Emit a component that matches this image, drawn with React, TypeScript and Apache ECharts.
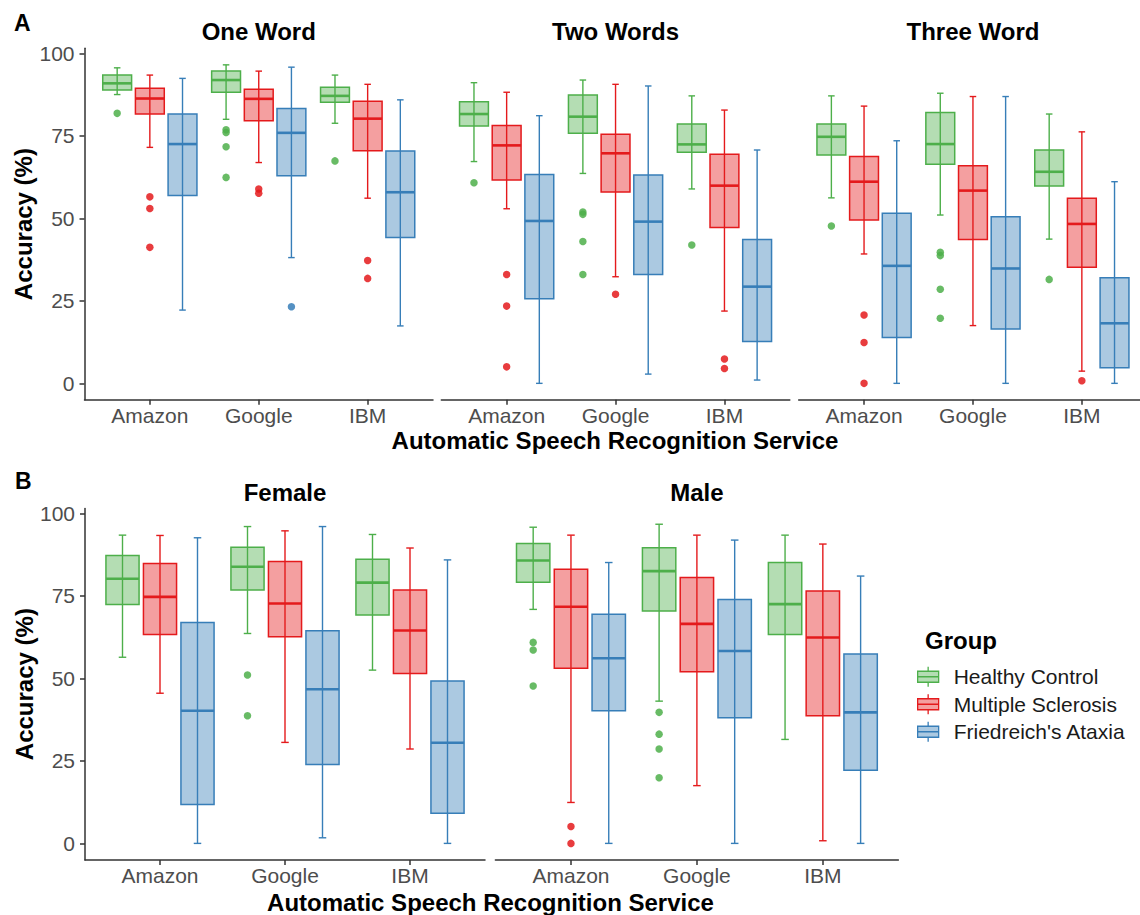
import React, { useEffect, useRef } from 'react';
import * as echarts from 'echarts';

const services = ['Amazon', 'Google', 'IBM'];
const groups = ['Healthy Control', 'Multiple Sclerosis', "Friedreich's Ataxia"];
const yTicks = [0, 25, 50, 75, 100];
const xTicks = [1, 2, 3];

// five-number summaries [min, q1, median, q3, max], one per service
const oneWordHC = [[87.5, 88.9, 90.9, 93.4, 95.6], [80.0, 88.2, 91.9, 94.6, 96.5], [78.8, 85.2, 87.1, 89.7, 93.4]];
const oneWordMS = [[71.5, 81.6, 86.3, 89.4, 93.4], [66.9, 79.6, 86.2, 89.1, 94.6], [56.1, 70.5, 80.2, 85.5, 90.6]];
const oneWordFA = [[22.2, 56.9, 72.5, 81.6, 92.4], [38.1, 62.9, 75.9, 83.3, 95.8], [17.4, 44.2, 57.9, 70.4, 85.9]];
// outliers [serviceIndex, value]
const oneWordHCOut = [[0, 81.8], [1, 76.8], [1, 76.0], [1, 71.7], [1, 62.4], [2, 67.4]];
const oneWordMSOut = [[0, 56.5], [0, 53.0], [0, 41.2], [1, 58.9], [1, 57.6], [2, 37.2], [2, 31.8]];
const oneWordFAOut = [[1, 23.2]];

const twoWordsHC = [[67.2, 78.0, 81.6, 85.3, 91.1], [63.6, 75.8, 80.8, 87.4, 91.9], [58.9, 70.0, 72.4, 78.6, 87.1]];
const twoWordsMS = [[52.9, 61.6, 72.1, 78.1, 88.2], [32.3, 58.0, 69.7, 75.5, 90.6], [21.9, 47.2, 59.9, 69.4, 82.8]];
const twoWordsFA = [[0, 25.6, 49.2, 63.3, 81.1], [2.8, 33.0, 49.0, 63.1, 90.1], [1.0, 12.7, 29.3, 43.6, 70.7]];
const twoWordsHCOut = [[0, 60.8], [1, 51.9], [1, 51.2], [1, 43.0], [1, 33.0], [2, 41.9]];
const twoWordsMSOut = [[0, 33.0], [0, 23.4], [0, 5.0], [1, 27.0], [2, 7.4], [2, 4.5]];
const twoWordsFAOut: number[][] = [];

const threeWordHC = [[56.2, 69.2, 74.7, 78.6, 87.1], [51.0, 66.4, 72.5, 82.1, 87.9], [43.7, 59.8, 64.1, 70.7, 81.6]];
const threeWordMS = [[39.2, 49.5, 61.1, 68.7, 84.0], [17.5, 43.6, 58.4, 65.9, 86.9], [3.7, 35.2, 48.3, 56.1, 76.2]];
const threeWordFA = [[0, 13.9, 35.6, 51.5, 73.5], [0, 16.5, 34.8, 50.5, 86.9], [0, 4.7, 18.2, 32.0, 61.1]];
const threeWordHCOut = [[0, 47.7], [1, 39.7], [1, 38.7], [1, 28.5], [1, 19.7], [2, 31.5]];
const threeWordMSOut = [[0, 20.7], [0, 12.4], [0, 0], [2, 0.8]];
const threeWordFAOut: number[][] = [];

const femaleHC = [[56.4, 72.4, 80.2, 87.2, 93.4], [63.6, 76.8, 83.8, 89.7, 96.0], [52.5, 69.2, 79.0, 86.1, 93.6]];
const femaleMS = [[45.5, 63.3, 74.7, 84.8, 93.3], [30.6, 62.6, 72.7, 85.4, 94.7], [28.6, 51.5, 64.5, 76.8, 89.5]];
const femaleFA = [[0, 11.8, 40.2, 66.9, 92.6], [1.7, 23.9, 46.7, 64.4, 96.0], [0, 9.1, 30.5, 49.2, 85.9]];
const femaleHCOut = [[1, 51.0], [1, 38.7]];
const femaleMSOut: number[][] = [];
const femaleFAOut: number[][] = [];

const maleHC = [[70.9, 79.1, 85.7, 90.9, 95.8], [43.1, 70.4, 82.5, 89.6, 96.7], [31.5, 63.3, 72.5, 85.1, 93.4]];
const maleMS = [[12.4, 53.1, 71.7, 83.1, 93.4], [17.5, 52.0, 66.5, 80.6, 93.4], [0.8, 38.7, 62.4, 76.5, 90.7]];
const maleFA = [[0, 40.2, 56.1, 69.4, 85.1], [0, 38.1, 58.3, 73.9, 91.9], [0, 22.2, 39.7, 57.4, 81.0]];
const maleHCOut = [[0, 60.9], [0, 58.6], [0, 47.7], [1, 39.7], [1, 33.1], [1, 28.6], [1, 19.9]];
const maleMSOut = [[0, 5.1], [0, 0]];
const maleFAOut: number[][] = [];

const FONT = "'Liberation Sans', Arial, Helvetica, sans-serif";
const strokes = ['#4DAF4A', '#E41A1C', '#377EB8'];
const fills = ['rgba(77,175,74,0.42)', 'rgba(228,26,28,0.42)', 'rgba(55,126,184,0.42)'];
const BOX_W = 0.265;
const CAP_W = 0.06;
const DODGE = 0.3;
const Y_MIN = -5;
const Y_MAX = 101.5;

const panels = [
  { title: 'One Word', box: [oneWordHC, oneWordMS, oneWordFA], out: [oneWordHCOut, oneWordMSOut, oneWordFAOut], left: 84.5, top: 48.35, width: 348.5, height: 351.5, showY: true },
  { title: 'Two Words', box: [twoWordsHC, twoWordsMS, twoWordsFA], out: [twoWordsHCOut, twoWordsMSOut, twoWordsFAOut], left: 441.3, top: 48.35, width: 348.5, height: 351.5, showY: false },
  { title: 'Three Word', box: [threeWordHC, threeWordMS, threeWordFA], out: [threeWordHCOut, threeWordMSOut, threeWordFAOut], left: 798.7, top: 48.35, width: 348.5, height: 351.5, showY: false },
  { title: 'Female', box: [femaleHC, femaleMS, femaleFA], out: [femaleHCOut, femaleMSOut, femaleFAOut], left: 85, top: 508.4, width: 400, height: 351.5, showY: true },
  { title: 'Male', box: [maleHC, maleMS, maleFA], out: [maleHCOut, maleMSOut, maleFAOut], left: 495.4, top: 508.4, width: 403, height: 351.5, showY: false },
];

const legendIcon = 'path://M10.5 0 L10.5 4.5 M0 4.5 L21 4.5 L21 15.5 L0 15.5 Z M0 10 L21 10 M10.5 15.5 L10.5 20';

function buildOption() {
  const grid: any[] = [];
  const xAxis: any[] = [];
  const yAxis: any[] = [];
  const series: any[] = [];
  const graphic: any[] = [];
  const axisColor = '#333333';

  panels.forEach((p, pi) => {
    grid.push({ left: p.left, top: p.top, width: p.width, height: p.height, containLabel: false, outerBoundsMode: 'none' });
    xAxis.push({
      type: 'value', gridIndex: pi, min: 0.4, max: 3.6,
      axisLine: { show: true, onZero: false, lineStyle: { color: axisColor, width: 1.5 } },
      axisTick: { show: true, customValues: xTicks, length: 5, lineStyle: { color: axisColor, width: 1.5 } },
      axisLabel: { customValues: xTicks, formatter: (v: number) => services[Math.round(v) - 1] || '', margin: 5, color: '#4d4d4d', fontSize: 21, fontFamily: FONT },
      splitLine: { show: false },
    });
    yAxis.push(p.showY ? {
      type: 'value', gridIndex: pi, min: Y_MIN, max: Y_MAX,
      name: 'Accuracy (%)', nameLocation: 'middle', nameGap: 47.5,
      nameTextStyle: { fontSize: 24, fontWeight: 'bold', color: '#000', fontFamily: FONT },
      axisLine: { show: true, onZero: false, lineStyle: { color: axisColor, width: 1.5 } },
      axisTick: { show: true, customValues: yTicks, length: 5, lineStyle: { color: axisColor, width: 1.5 } },
      axisLabel: { customValues: yTicks, margin: 10, color: '#4d4d4d', fontSize: 21, fontFamily: FONT },
      splitLine: { show: false },
    } : {
      type: 'value', gridIndex: pi, min: Y_MIN, max: Y_MAX, show: false,
      axisLine: { show: false }, axisTick: { show: false }, axisLabel: { show: false }, splitLine: { show: false },
    });

    groups.forEach((g, gi) => {
      const offset = (gi - 1) * DODGE;
      const stroke = strokes[gi];
      const fill = fills[gi];
      series.push({
        type: 'custom', name: g, xAxisIndex: pi, yAxisIndex: pi,
        encode: { x: 0, y: [1, 2, 3, 4, 5] },
        data: p.box[gi].map((s, si) => [si + 1 + offset, ...s]),
        renderItem: (params: any, api: any) => {
          const x = api.value(0);
          const pLo = api.coord([x, api.value(1)]);
          const pQ1 = api.coord([x, api.value(2)]);
          const pMed = api.coord([x, api.value(3)]);
          const pQ3 = api.coord([x, api.value(4)]);
          const pHi = api.coord([x, api.value(5)]);
          const halfW = api.size([BOX_W, 0])[0] / 2;
          const capW = api.size([CAP_W, 0])[0] / 2;
          const cx = pMed[0];
          const ls = { stroke, lineWidth: 1.4 };
          return {
            type: 'group',
            children: [
              { type: 'line', shape: { x1: cx, y1: pHi[1], x2: cx, y2: pLo[1] }, style: ls },
              { type: 'line', shape: { x1: cx - capW, y1: pHi[1], x2: cx + capW, y2: pHi[1] }, style: ls },
              { type: 'line', shape: { x1: cx - capW, y1: pLo[1], x2: cx + capW, y2: pLo[1] }, style: ls },
              { type: 'rect', shape: { x: cx - halfW, y: pQ3[1], width: halfW * 2, height: pQ1[1] - pQ3[1] }, style: { fill, stroke, lineWidth: 1.5 } },
              { type: 'line', shape: { x1: cx - halfW, y1: pMed[1], x2: cx + halfW, y2: pMed[1] }, style: { stroke, lineWidth: 2.6 } },
            ],
          };
        },
      });
      series.push({
        type: 'scatter', name: g, xAxisIndex: pi, yAxisIndex: pi,
        symbol: 'circle', symbolSize: 7.5,
        itemStyle: { color: stroke, opacity: 0.85 },
        data: p.out[gi].map(([si, v]) => [si + 1 + offset, v]),
      });
    });

    graphic.push({
      type: 'text', x: p.left + p.width / 2, y: pi < 3 ? 31 : 492,
      style: { text: p.title, fill: '#000', font: `bold 24px ${FONT}`, align: 'center', verticalAlign: 'middle' },
    });
  });

  graphic.push(
    { type: 'text', x: 14, y: 23, style: { text: 'A', fill: '#000', font: `bold 23px ${FONT}`, align: 'left', verticalAlign: 'middle' } },
    { type: 'text', x: 15, y: 481, style: { text: 'B', fill: '#000', font: `bold 23px ${FONT}`, align: 'left', verticalAlign: 'middle' } },
    { type: 'text', x: 615, y: 440, style: { text: 'Automatic Speech Recognition Service', fill: '#000', font: `bold 24px ${FONT}`, align: 'center', verticalAlign: 'middle' } },
    { type: 'text', x: 490.5, y: 902, style: { text: 'Automatic Speech Recognition Service', fill: '#000', font: `bold 24px ${FONT}`, align: 'center', verticalAlign: 'middle' } },
    { type: 'text', x: 925, y: 640, style: { text: 'Group', fill: '#000', font: `bold 24px ${FONT}`, align: 'left', verticalAlign: 'middle' } },
  );

  return {
    animation: false,
    backgroundColor: '#ffffff',
    grid, xAxis, yAxis, series, graphic,
    legend: {
      orient: 'vertical', left: 917, top: 663, padding: 0, itemGap: 0,
      itemWidth: 41, itemHeight: 20, icon: legendIcon, selectedMode: false,
      textStyle: { fontSize: 21, color: '#1a1a1a', fontFamily: FONT, lineHeight: 27.5 },
      data: groups.map((g, i) => ({ name: g, icon: legendIcon, itemStyle: { color: fills[i], borderColor: strokes[i], borderWidth: 1.3 } })),
    },
  };
}

export default function App() {
  const ref = useRef<HTMLDivElement>(null);
  useEffect(() => {
    if (!ref.current) return;
    const chart = echarts.init(ref.current, null, { renderer: 'svg' });
    chart.setOption(buildOption() as any);
    return () => chart.dispose();
  }, []);
  return <div ref={ref} style={{ position: 'fixed', left: 0, top: 0, width: 1140, height: 915, background: '#fff' }} />;
}
